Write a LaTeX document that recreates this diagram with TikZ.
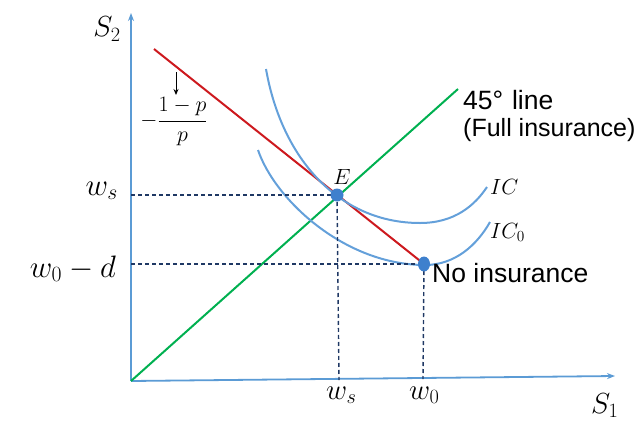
\RequirePackage{fix-cm}
\documentclass[tikz,border=0pt]{standalone}
\usepackage[no-math]{fontspec}
\newfontfamily\arialf{Liberation Sans}
\usetikzlibrary{arrows.meta}
\definecolor{axisblue}{RGB}{91,155,213}
\definecolor{curveblue}{RGB}{100,160,218}
\definecolor{dotblue}{RGB}{62,128,205}
\definecolor{navy}{RGB}{31,56,100}
\definecolor{budgetred}{RGB}{205,25,30}
\definecolor{fullgreen}{RGB}{0,176,80}
\begin{document}
\begin{tikzpicture}[x=1pt,y=-1pt,
  axis/.style={draw=axisblue, line width=1.8pt, -{Stealth[length=8pt,width=6pt]}},
  curve/.style={draw=curveblue, line width=2pt},
  guide/.style={draw=navy, line width=1.4pt, dash pattern=on 4pt off 3pt},
  budget/.style={draw=budgetred, line width=2pt},
  diag/.style={draw=fullgreen, line width=2pt},
  biglbl/.style={inner sep=0pt, font=\fontsize{31}{33}\selectfont},
  lbl/.style={inner sep=0pt, font=\fontsize{29}{31}\selectfont},
  small/.style={inner sep=0pt, font=\fontsize{22}{25}\selectfont},
  txt/.style={inner sep=0pt, font=\arialf\fontsize{25}{28}\selectfont},
  bigtxt/.style={inner sep=0pt, font=\arialf\fontsize{26.5}{28}\selectfont},
]
\useasboundingbox (0,0) rectangle (638,421);
% key points
\coordinate (O) at (131,381);
\coordinate (ytop) at (131,13);
\coordinate (xend) at (615,376);
\coordinate (G) at (458,89);
\coordinate (R1) at (154,49);
\coordinate (E) at (337,195);
\coordinate (NI) at (424,264);
\coordinate (Ews) at (131,195);
\coordinate (Ewb) at (339,380);
\coordinate (Nwd) at (131,264);
\coordinate (Nwb) at (423,379);
\coordinate (arrA) at (176,72);
\coordinate (arrB) at (176,95);
% axes
\draw[axis] (O) -- (ytop);
\draw[axis] (O) -- (xend);
% 45 degree line and budget line
\draw[diag] (O) -- (G);
\draw[budget] (R1) -- (NI);
% indifference curves
\draw[curve] (266,69) .. controls (282,160) and (340,223) .. (420,223)
             .. controls (455,223) and (475,205) .. (487,187);
\draw[curve] (258,150) .. controls (275,200) and (345,265) .. (425,265)
             .. controls (455,265) and (477,245) .. (490,222);
% guide lines
\draw[guide] (Ews) -- (E);
\draw[guide] (E) -- (Ewb);
\draw[guide] (Nwd) -- (NI);
\draw[guide] (NI) -- (Nwb);
% dots
\fill[dotblue] (E) circle[radius=6.5pt];
\fill[dotblue] (NI) ellipse[x radius=6pt, y radius=7.5pt];
% slope arrow
\draw[line width=1pt, -{Stealth[length=6pt,width=5pt]}] (arrA) -- (arrB);
% labels
\node[lbl] (s2) at (107,29) {$S_2$};
\node[lbl, anchor=base west] (s1) at (591,413) {$S_1$};
\node[biglbl, anchor=base east] (lws) at (118,195) {$w_s$};
\node[biglbl, anchor=base east] (lwd) at (116,277) {$w_0-d$};
\node[lbl, anchor=base west] (bws) at (326,399) {$w_s$};
\node[lbl, anchor=base west] (bw0) at (409,399) {$w_0$};
\node[small] (elbl) at (342,177) {$E$};
\node[small, anchor=base west] (ic) at (490,194) {$IC$};
\node[small, anchor=base west] (ic0) at (490,238) {$IC_0$};
\node[small] (slope) at (174,122) {$\displaystyle -\frac{1-p}{p}$};
\node[bigtxt, anchor=base west] (l45) at (463,109) {45°\,\,line};
\node[txt, anchor=base west] (lfull) at (463,136) {(Full insurance)};
\node[bigtxt, anchor=base west] (lno) at (432,282) {No insurance};
\end{tikzpicture}
\end{document}
